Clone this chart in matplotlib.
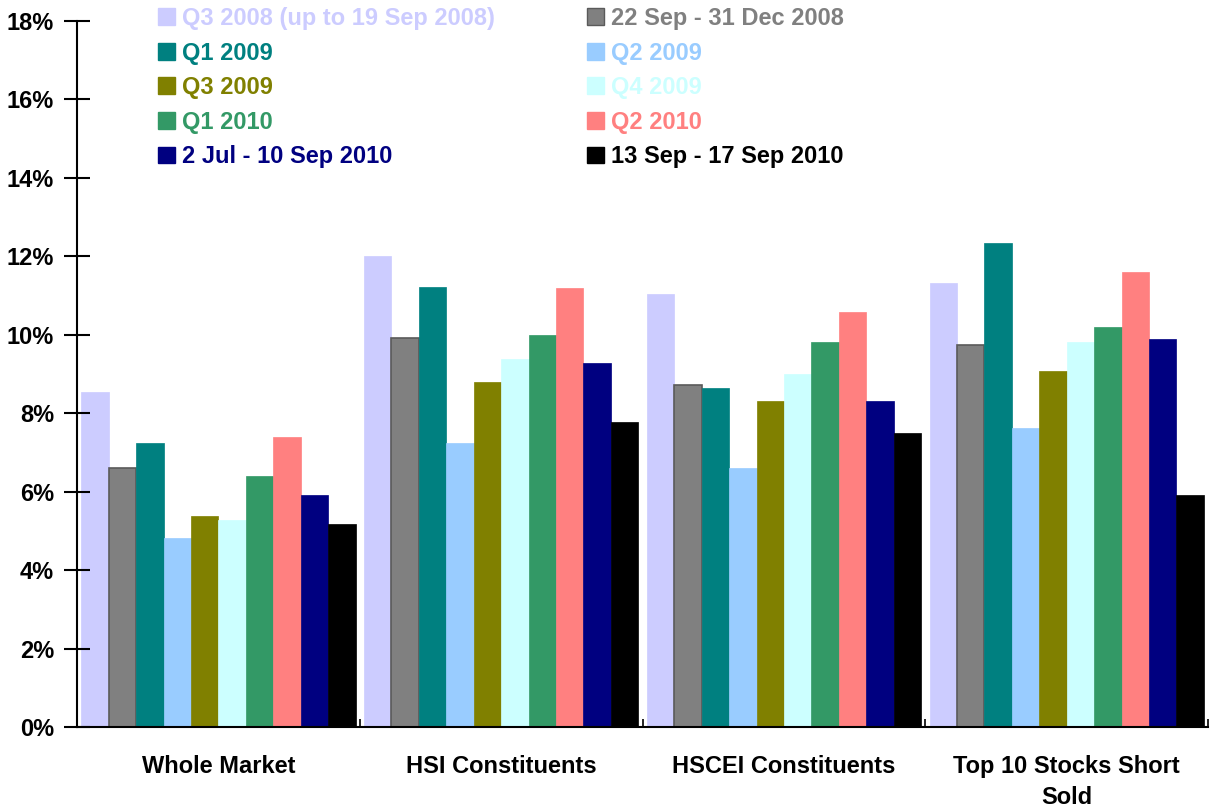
import numpy as np
import matplotlib.pyplot as plt
from matplotlib.patches import Patch

plt.rcParams['font.family'] = ['Liberation Sans', 'DejaVu Sans']
plt.rcParams['font.weight'] = 'bold'

# Data (percent)
categories = ['Whole Market', 'HSI Constituents', 'HSCEI Constituents', 'Top 10 Stocks Short\nSold']
series_names = ['Q3 2008 (up to 19 Sep 2008)', '22 Sep - 31 Dec 2008', 'Q1 2009', 'Q2 2009',
                'Q3 2009', 'Q4 2009', 'Q1 2010', 'Q2 2010', '2 Jul - 10 Sep 2010',
                '13 Sep - 17 Sep 2010']
colors = ['#CCCCFF', '#808080', '#008080', '#99CCFF', '#808000',
          '#CCFFFF', '#339966', '#FF8080', '#000080', '#000000']

q3_2008 = [8.54, 12.02, 11.05, 11.33]
sep_dec_2008 = [6.60, 9.93, 8.72, 9.74]
q1_2009 = [7.24, 11.23, 8.64, 12.34]
q2_2009 = [4.83, 7.24, 6.61, 7.63]
q3_2009 = [5.38, 8.80, 8.32, 9.08]
q4_2009 = [5.28, 9.39, 9.01, 9.82]
q1_2010 = [6.40, 10.00, 9.82, 10.20]
q2_2010 = [7.40, 11.20, 10.59, 11.61]
jul_sep_2010 = [5.92, 9.29, 8.32, 9.90]
sep_2010 = [5.18, 7.78, 7.50, 5.92]

values = [q3_2008, sep_dec_2008, q1_2009, q2_2009, q3_2009,
          q4_2009, q1_2010, q2_2010, jul_sep_2010, sep_2010]

fig = plt.figure(figsize=(12.11, 8.09), dpi=100)
ax = fig.add_axes([0.0636, 0.1014, 0.934, 0.8726])

x = np.arange(len(categories))
n = len(values)
w = 0.97 / n
for i, (vals, c) in enumerate(zip(values, colors)):
    edge = '#5a5a5a' if c == '#808080' else c
    ax.bar(x - 0.485 + w * (i + 0.5), vals, width=w, color=c,
           edgecolor=edge, linewidth=1.2 if c == '#808080' else 0.5)

ax.set_xlim(-0.5, 3.5)
ax.set_ylim(0, 18)
ax.set_yticks(np.arange(0, 19, 2))
ax.set_yticklabels([f'{v}%' for v in range(0, 19, 2)], fontsize=17, fontweight='bold')
ax.set_xticks(x)
ax.set_xticklabels(categories, fontsize=17, fontweight='bold', linespacing=1.45)
ax.tick_params(axis='x', length=0, pad=20)
ax.set_xticks(np.arange(-0.5, 4, 1), minor=True)
ax.tick_params(axis='x', which='minor', direction='in', length=6, width=1.2)
ax.tick_params(axis='y', direction='inout', length=19, width=1.5, pad=7)

for s in ['top', 'right']:
    ax.spines[s].set_visible(False)
ax.spines['left'].set_linewidth(1.5)
ax.spines['bottom'].set_linewidth(1.5)

# legend: two columns, filled row by row
order = [0, 2, 4, 6, 8, 1, 3, 5, 7, 9]
handles = [Patch(facecolor=colors[i], edgecolor='#5a5a5a' if i == 1 else colors[i]) for i in order]
labels = [series_names[i] for i in order]
leg = ax.legend(handles, labels, ncol=2, loc='upper left', bbox_to_anchor=(0.053, 1.05),
                frameon=False, handlelength=0.72, handleheight=0.72,
                handletextpad=0.3, columnspacing=3.87, labelspacing=0.49,
                labelcolor=[colors[i] for i in order], prop={'weight': 'bold', 'size': 17})

plt.savefig('out.png', dpi=100)
